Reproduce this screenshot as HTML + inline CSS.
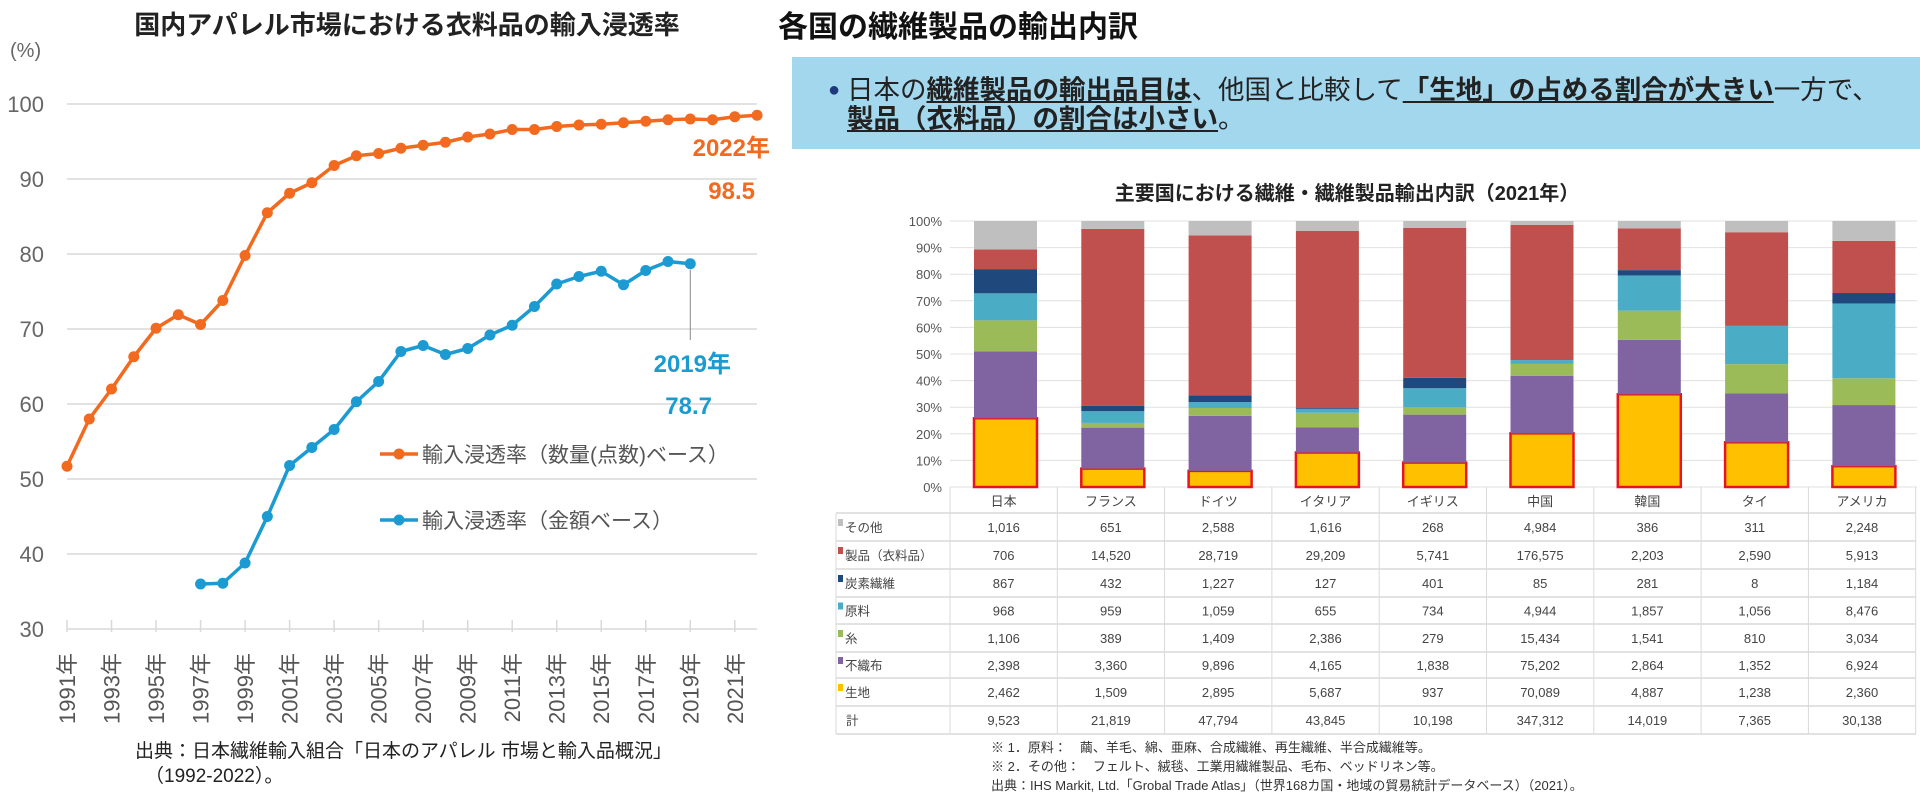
<!DOCTYPE html>
<html><head><meta charset="utf-8">
<style>
body{margin:0;width:1920px;height:800px;background:#fff;overflow:hidden;font-family:"Liberation Sans","Noto Sans CJK JP",sans-serif;position:relative}
#banner{position:absolute;left:792px;top:57px;width:1128px;height:92px;background:#a3d7ee}
#banner .l{position:absolute;left:55px;font-size:26.5px;line-height:30px;color:#222;white-space:nowrap}
#banner b{font-weight:bold;text-decoration:underline}
svg{position:absolute;left:0;top:0}
</style></head><body>
<svg id="s" width="1920" height="800" xmlns="http://www.w3.org/2000/svg" font-family="Liberation Sans, Noto Sans CJK JP, sans-serif">
<text x="407" y="34" text-anchor="middle" font-size="26" font-weight="bold" fill="#222">国内アパレル市場における衣料品の輸入浸透率</text>
<text x="10" y="57" font-size="20" fill="#666">(%)</text>
<g id="lc"></g>
<text x="135" y="757" font-size="19" fill="#222">出典：日本繊維輸入組合「日本のアパレル 市場と輸入品概況」</text>
<text x="145" y="782" font-size="19" fill="#222">（1992-2022）。</text>
<text x="778" y="37" font-size="30" font-weight="bold" fill="#111">各国の繊維製品の輸出内訳</text>
<text x="1347" y="200" text-anchor="middle" font-size="20" font-weight="bold" fill="#222">主要国における繊維・繊維製品輸出内訳（2021年）</text>
<g id="bc"></g>
<g id="tb"></g>
<text x="991" y="752" font-size="13" fill="#333">※ 1．原料：　繭、羊毛、綿、亜麻、合成繊維、再生繊維、半合成繊維等。</text>
<text x="991" y="771" font-size="13" fill="#333">※ 2．その他：　フェルト、絨毯、工業用繊維製品、毛布、ベッドリネン等。</text>
<text x="991" y="790" font-size="13" fill="#333">出典：IHS Markit, Ltd.「Grobal Trade Atlas」（世界168カ国・地域の貿易統計データベース）（2021）。</text>
</svg>
<div id="banner">
<div class="l" style="top:18px;left:36px;color:#1f3a7a;font-size:20px">●</div>
<div class="l" style="top:18px">日本の<b>繊維製品の輸出品目は</b>、他国と比較して<b>「生地」の占める割合が大きい</b>一方で、</div>
<div class="l" style="top:47px"><b>製品（衣料品）の割合は小さい</b>。</div>
</div>
<script>
const NS="http://www.w3.org/2000/svg";
function mk(p,t,a){const e=document.createElementNS(NS,t);for(const k in a)e.setAttribute(k,a[k]);p.appendChild(e);return e;}
// ---- left line chart data ----
const years=["1991","1992","1993","1994","1995","1996","1997","1998","1999","2000","2001","2002","2003","2004","2005","2006","2007","2008","2009","2010","2011","2012","2013","2014","2015","2016","2017","2018","2019","2020","2021","2022"];
const qtyRate=[51.7,58.0,62.0,66.3,70.1,71.9,70.6,73.8,79.8,85.5,88.1,89.5,91.8,93.1,93.4,94.1,94.5,94.9,95.6,96.0,96.6,96.6,97.0,97.2,97.3,97.5,97.7,97.9,98.0,97.9,98.3,98.5];
const valueStart=6;
const valueRate=[36.0,36.1,38.8,45.0,51.8,54.2,56.6,60.3,63.0,67.0,67.8,66.6,67.4,69.2,70.5,73.0,76.0,77.0,77.7,75.9,77.8,79.0,78.7];
const yTicks=[30,40,50,60,70,80,90,100];
// ---- bar chart data ----
const countries=["日本","フランス","ドイツ","イタリア","イギリス","中国","韓国","タイ","アメリカ"];
const catNames=["その他","製品（衣料品）","炭素繊維","原料","糸","不織布","生地"];
const catColors=["#bfbfbf","#c0504d","#1f497d","#4bacc6","#9bbb59","#8064a2","#ffc000"];
const sonota=[1016,651,2588,1616,268,4984,386,311,2248];
const seihin=[706,14520,28719,29209,5741,176575,2203,2590,5913];
const tanso=[867,432,1227,127,401,85,281,8,1184];
const genryo=[968,959,1059,655,734,4944,1857,1056,8476];
const ito=[1106,389,1409,2386,279,15434,1541,810,3034];
const fushokufu=[2398,3360,9896,4165,1838,75202,2864,1352,6924];
const kiji=[2462,1509,2895,5687,937,70089,4887,1238,2360];
const totals=[9523,21819,47794,43845,10198,347312,14019,7365,30138];
const pctTicks=[0,10,20,30,40,50,60,70,80,90,100];

const lc=document.getElementById('lc');
const X=i=>67+i*22.26, Y=v=>629-(v-30)*7.5;
yTicks.forEach(t=>{
 const l=mk(lc,'line',{x1:67,x2:757,y1:Y(t),y2:Y(t),stroke:'#d9d9d9','stroke-width':1.5});
 
 
 const tx=mk(lc,'text',{x:44,y:Y(t)+8,'text-anchor':'end','font-size':22,fill:'#666'});tx.textContent=t;
 
 
});
years.forEach((yr,i)=>{
 if(i%2)return;
 const tk=mk(lc,'line',{x1:X(i),x2:X(i),y1:620,y2:632,stroke:'#d9d9d9','stroke-width':1.5});
 
 
 const tx=mk(lc,'text',{x:0,y:0,'text-anchor':'end','font-size':22,fill:'#555',transform:`translate(${X(i)+8},653) rotate(-90)`});tx.textContent=yr+'年';
 
 
});
function series(vals,start,col,name){
 const pts=vals.map((v,i)=>X(i+start)+','+Y(v)).join(' ');
 const pl=mk(lc,'polyline',{points:pts,fill:'none',stroke:col,'stroke-width':3.5,'stroke-linejoin':'round'});
 
 
 vals.forEach((v,i)=>{const c=mk(lc,'circle',{cx:X(i+start),cy:Y(v),r:5.5,fill:col});
  
  });
}
series(qtyRate,0,'#f26a1f','qty-rate');
series(valueRate,valueStart,'#1b9bd1','value-rate');
const ld=mk(lc,'line',{x1:X(28),x2:X(28),y1:Y(valueRate[valueRate.length-1])+6,y2:340,stroke:'#888','stroke-width':1});


[[ '2022年',770,156,'#f26a1f'],['98.5',755,199,'#f26a1f'],['2019年',731,372,'#1b9bd1'],['78.7',712,414,'#1b9bd1']].forEach(a=>{
 const t=mk(lc,'text',{x:a[1],y:a[2],'text-anchor':'end','font-size':24,'font-weight':'bold',fill:a[3]});t.textContent=a[0];
 
 
});
[['輸入浸透率（数量(点数)ベース）',454,'#f26a1f'],['輸入浸透率（金額ベース）',520,'#1b9bd1']].forEach(a=>{
 const l=mk(lc,'line',{x1:380,x2:418,y1:a[1],y2:a[1],stroke:a[2],'stroke-width':3.5});
 
 
 const c=mk(lc,'circle',{cx:399,cy:a[1],r:5.5,fill:a[2]});
 
 
 const t=mk(lc,'text',{x:422,y:a[1]+8,'font-size':21,fill:'#555'});t.textContent=a[0];
 
 
});

// ---- bars ----
const bc=document.getElementById('bc');
const BY=p=>487-p*2.66, BX=i=>1005+i*107.3;
pctTicks.forEach(t=>{
 const l=mk(bc,'line',{x1:950,x2:1917,y1:BY(t),y2:BY(t),stroke:'#e0e0e0','stroke-width':1});
 
 
 const tx=mk(bc,'text',{x:942,y:BY(t)+5,'text-anchor':'end','font-size':13,fill:'#555'});tx.textContent=t+'%';
 
 
});
const stack=[kiji,fushokufu,ito,genryo,tanso,seihin,sonota];
const stackColors=["#ffc000","#8064a2","#9bbb59","#4bacc6","#1f497d","#c0504d","#bfbfbf"];
countries.forEach((c,i)=>{
 let cum=0;
 stack.forEach((arr,k)=>{
  const p=arr[i]/totals[i]*100;
  const r=mk(bc,'rect',{x:BX(i)-31,y:BY(cum+p),width:63,height:p*2.66,fill:stackColors[k]});
  if(k===0){r.setAttribute('stroke','#e8141c');r.setAttribute('stroke-width','2.5');}
  
  
  cum+=p;
 });
});
// ---- table ----
const tb=document.getElementById('tb');
const rowsData=[sonota,seihin,tanso,genryo,ito,fushokufu,kiji,totals];
const rowNames=["その他","製品（衣料品）","炭素繊維","原料","糸","不織布","生地","計"];
const rowY=[487,513,541,569,597,624,652,678,706,734];
const colX=i=>950+i*107.3;
for(let i=0;i<=9;i++){const l=mk(tb,'line',{x1:colX(i),x2:colX(i),y1:487,y2:734,stroke:'#d9d9d9'});
 
 }
rowY.slice(1).forEach(y=>{const l=mk(tb,'line',{x1:836,x2:1916,y1:y,y2:y,stroke:'#d9d9d9','stroke-width':1.5});
 
 });
const lb=mk(tb,'line',{x1:836,x2:836,y1:513,y2:734,stroke:'#d9d9d9'});


countries.forEach((c,i)=>{const t=mk(tb,'text',{x:colX(i)+53.6,y:506,'text-anchor':'middle','font-size':13,fill:'#444'});t.textContent=c;
 
 });
rowsData.forEach((arr,r)=>{
 const cy=(rowY[r+1]+rowY[r+2])/2+5;
 if(r<7){const sq=mk(tb,'rect',{x:838,y:cy-13,width:5,height:7,fill:catColors[r]});
  
  }
 const nm=mk(tb,'text',{x:r<7?845:846,y:cy,'font-size':12.5,fill:'#444'});nm.textContent=rowNames[r];
 
 
 arr.forEach((v,i)=>{const t=mk(tb,'text',{x:colX(i)+53.6,y:cy,'text-anchor':'middle','font-size':13,fill:'#444'});t.textContent=v.toLocaleString('en-US');
  
  });
});
</script>
</body></html>
